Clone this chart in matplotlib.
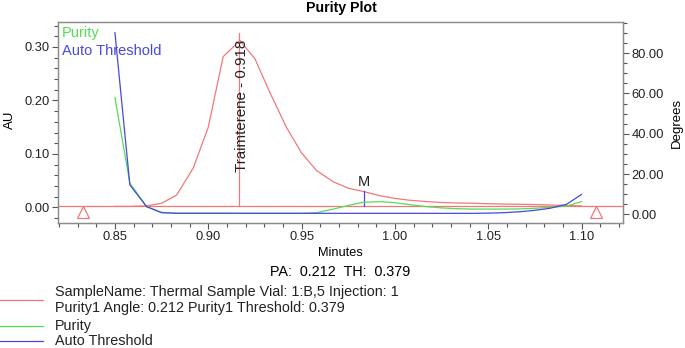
import matplotlib
matplotlib.use("Agg")
import matplotlib.pyplot as plt
from matplotlib.lines import Line2D
from matplotlib.ticker import MultipleLocator, FormatStrFormatter

plt.rcParams["font.family"] = ["Liberation Sans", "DejaVu Sans"]

# chromatogram (AU), sampled every 1/120 min
red_time = [0.850, 0.858, 0.867, 0.875, 0.883, 0.892, 0.900, 0.908, 0.917, 0.925,
            0.933, 0.942, 0.950, 0.958, 0.967, 0.975, 0.983, 0.992, 1.000, 1.008,
            1.017, 1.025, 1.033, 1.042, 1.050, 1.058, 1.067, 1.075, 1.083, 1.092, 1.100]
red_au = [0.002, 0.002, 0.003, 0.008, 0.023, 0.074, 0.150, 0.282, 0.312, 0.278,
          0.215, 0.149, 0.102, 0.069, 0.048, 0.036, 0.030, 0.022, 0.017, 0.0135,
          0.011, 0.0093, 0.0084, 0.0079, 0.0070, 0.0064, 0.0060, 0.0055, 0.0047, 0.0037, 0.0030]

# purity angle / auto threshold (degrees)
purity = [58.0, 15.5, 3.8, 1.0, 0.6, 0.6, 0.6, 0.6, 0.5, 0.5,
          0.5, 0.5, 0.5, 0.8, 2.6, 4.4, 6.0, 6.3, 5.8, 4.8,
          3.8, 3.2, 2.8, 2.6, 2.6, 2.6, 2.7, 3.0, 3.5, 4.1, 6.3]
threshold = [90.2, 14.6, 3.8, 0.8, 0.5, 0.5, 0.5, 0.5, 0.5, 0.5,
             0.5, 0.5, 0.5, 0.5, 0.5, 0.5, 0.5, 0.5, 0.5, 0.5,
             0.5, 0.5, 0.5, 0.5, 0.6, 0.8, 1.3, 2.0, 3.0, 5.0, 9.9]

baseline_au = 0.002
peak_time = 0.9165
peak_label = "Traimterene - 0.918"
m_time, m_au = 0.9834, 0.030
start_end = [0.833, 1.108]

RED = "#f07878"
GREEN = "#55dd55"
BLUE = "#4848dd"
FRAME = "#8c8c8c"

fig = plt.figure(figsize=(6.85, 3.48), dpi=100)
ax = fig.add_axes([58 / 685, 1 - 223 / 348, 565 / 685, 201 / 348])
ax2 = ax.twinx()

ax.plot(red_time, red_au, color=RED, lw=0.9)
ax.axhline(baseline_au, color=RED, lw=0.9)
ax.plot([peak_time, peak_time], [baseline_au, 0.326], color=RED, lw=0.9)
ax.text(0.918, 0.189, peak_label, rotation=90, ha="center", va="center",
        fontsize=10.9, color="#222222")
ax.plot([m_time, m_time], [baseline_au, m_au], color=BLUE, lw=0.9)
ax.text(m_time, 0.047, "M", ha="center", va="center", fontsize=10.5, color="#222222")
ax.plot(start_end, [-0.0085, -0.0085], ls="none", marker="^", ms=8.5,
        mfc="none", mec=RED, mew=0.9)

ax2.plot(red_time, purity, color=GREEN, lw=0.9)
ax2.plot(red_time, threshold, color=BLUE, lw=0.9)

ax.set_xlim(0.8195, 1.1222)
ax.set_ylim(-0.029, 0.3467)
ax2.set_ylim(-4.3, 95.5)

ax.xaxis.set_major_locator(MultipleLocator(0.05))
ax.xaxis.set_minor_locator(MultipleLocator(0.01))
ax.xaxis.set_major_formatter(FormatStrFormatter("%.2f"))
ax.yaxis.set_major_locator(MultipleLocator(0.10))
ax.yaxis.set_minor_locator(MultipleLocator(0.02))
ax.yaxis.set_major_formatter(FormatStrFormatter("%.2f"))
ax2.yaxis.set_major_locator(MultipleLocator(20))
ax2.yaxis.set_minor_locator(MultipleLocator(5))
ax2.yaxis.set_major_formatter(FormatStrFormatter("%.2f"))

for a in (ax, ax2):
    for s in a.spines.values():
        s.set_color(FRAME)
        s.set_linewidth(0.9)
    a.tick_params(which="both", direction="out", color="#555555", labelcolor="#222222",
                  labelsize=9.3, width=0.8, pad=2)
    a.tick_params(which="major", length=4)
    a.tick_params(which="minor", length=3)

ax.text(0.007, 0.945, "Purity", transform=ax.transAxes, color=GREEN,
        fontsize=10.5, va="center")
ax.text(0.007, 0.856, "Auto Threshold", transform=ax.transAxes, color=BLUE,
        fontsize=10.5, va="center")

fig.text(341 / 685, 1 - 8 / 348, "Purity Plot", ha="center", va="center",
         fontsize=10.2, fontweight="bold")
fig.text(10 / 685, 1 - 120 / 348, "AU", rotation=90, ha="center", va="center", fontsize=9.5)
fig.text(677 / 685, 1 - 123 / 348, "Degrees", rotation=90, ha="center", va="center", fontsize=9.5)
fig.text(340 / 685, 1 - 253 / 348, "Minutes", ha="center", va="center", fontsize=9.2)
fig.text(340 / 685, 1 - 271.5 / 348, "PA:  0.212  TH:  0.379", ha="center", va="center",
         fontsize=10.4)

# bottom legend
legend_rows = [
    (RED, 300, "SampleName: Thermal Sample Vial: 1:B,5 Injection: 1\n"
                "Purity1 Angle: 0.212 Purity1 Threshold: 0.379"),
    (GREEN, 326, "Purity"),
    (BLUE, 341, "Auto Threshold"),
]
for color, ypx, label in legend_rows:
    y = 1 - ypx / 348
    fig.add_artist(Line2D([0, 43 / 685], [y, y], color=color, lw=0.9,
                          transform=fig.transFigure))
    fig.text(55 / 685, y, label, ha="left", va="center", fontsize=10.4,
             linespacing=1.17, color="#222222")

fig.savefig("out.png", dpi=100)
